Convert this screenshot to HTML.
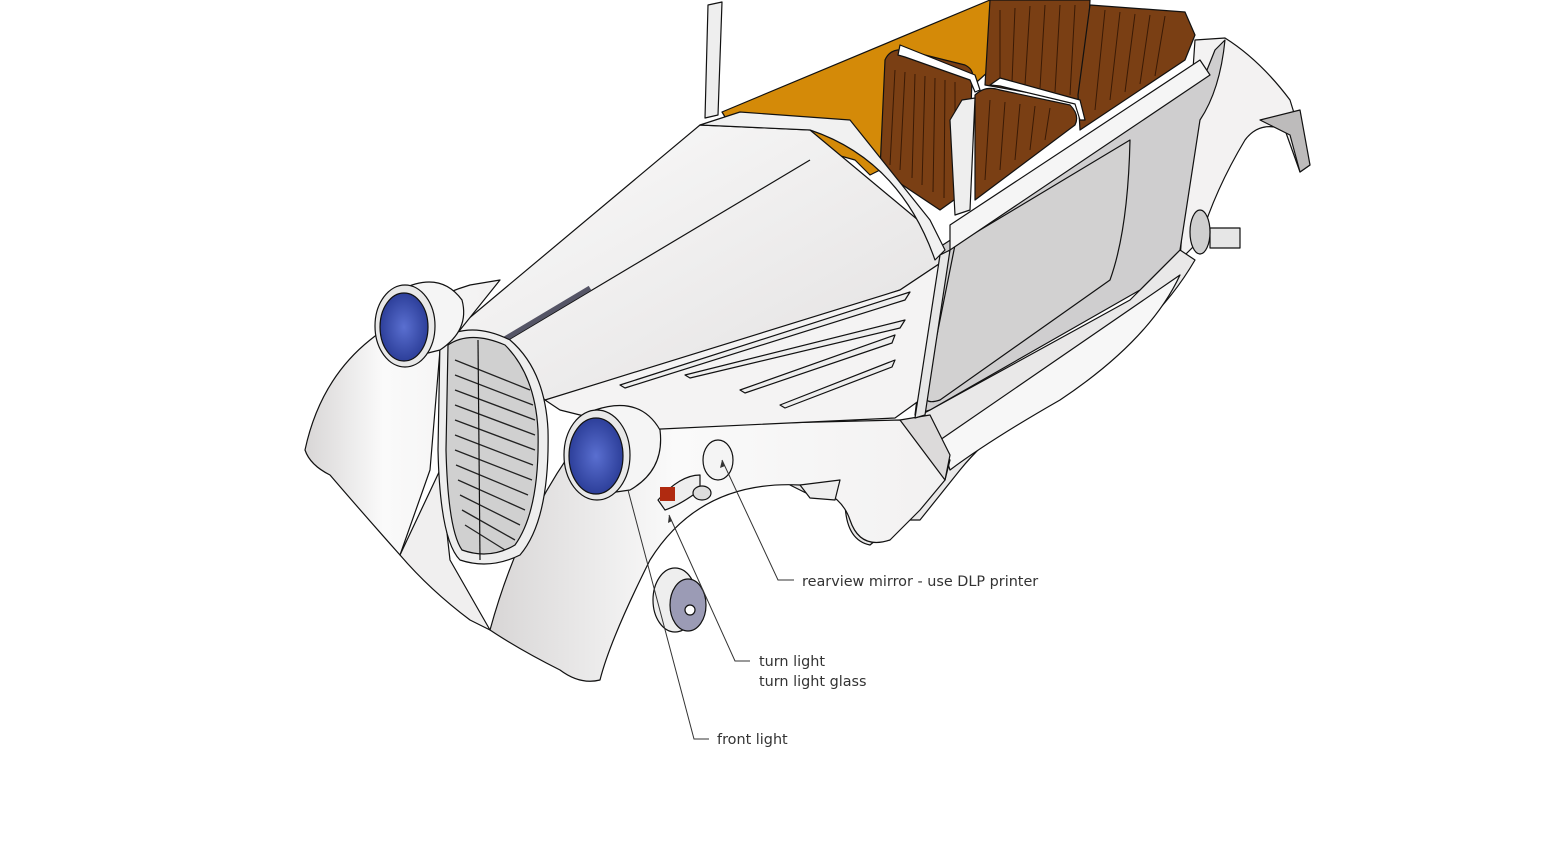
<!DOCTYPE html>
<html><head><style>
html,body{margin:0;padding:0;background:#fff;}
svg{display:block}
text{font-family:"DejaVu Sans","Liberation Sans",sans-serif;font-size:14.4px;fill:#333}
</style></head><body>
<svg width="1560" height="849" viewBox="0 0 1560 849" xmlns="http://www.w3.org/2000/svg">
<defs>
<linearGradient id="bodyg" x1="0" y1="0" x2="1" y2="1"><stop offset="0" stop-color="#fbfbfb"/><stop offset="1" stop-color="#e2e0e0"/></linearGradient>
<linearGradient id="fend" x1="0" y1="0" x2="1" y2="0"><stop offset="0" stop-color="#d8d6d6"/><stop offset="0.4" stop-color="#fafafa"/><stop offset="1" stop-color="#f2f1f1"/></linearGradient>
<radialGradient id="blue"><stop offset="0" stop-color="#5a6fd0"/><stop offset="1" stop-color="#2d3f9a"/></radialGradient>
</defs>
<g stroke="#111" stroke-width="1.2" stroke-linejoin="round">
<path d="M1195,40 L1225,38 Q1260,60 1290,100 L1310,165 L1300,172 L1285,130 Q1260,120 1245,140 Q1215,190 1200,240 L1180,260 Z" fill="#f3f2f2"/>
<path d="M1260,120 L1300,110 L1310,165 L1300,172 L1290,135 Z" fill="#bdbbbb"/>
<rect x="1210" y="228" width="30" height="20" fill="#e6e6e6"/>
<ellipse cx="1200" cy="232" rx="10" ry="22" fill="#cfcfcf"/>
<path d="M930,410 L1130,300 L1180,250 L1195,260 Q1160,320 1100,360 Q1000,420 960,470 L920,520 L900,520 L870,545 Q845,540 845,500 L810,495 L790,485 Z" fill="#e9e8e8"/>
<path d="M940,440 L1180,275 Q1150,340 1060,400 Q990,440 950,470 Z" fill="#f7f7f7"/>
<path d="M722,112 L990,0 L1000,0 L990,70 L880,170 L870,175 L855,160 L730,125 Z" fill="#d48a08"/>
<path d="M935,250 L1205,75 L1215,50 L1225,40 Q1220,90 1200,120 L1180,250 L1140,290 L930,410 L915,415 Z" fill="#cfcecf"/>
<path d="M955,245 L1130,140 Q1128,230 1110,280 L940,400 Q925,405 925,395 Z" fill="#d2d1d1"/>
<path d="M950,225 L1200,60 L1210,75 L950,250 Z" fill="#f5f5f5"/>
<path d="M990,0 L1090,0 L1085,100 L1070,100 L985,85 Z" fill="#7a3f14"/>
<path d="M1090,5 L1185,12 L1195,35 L1185,60 L1080,130 L1078,95 Z" fill="#7a3f14"/>
<path d="M885,60 Q890,48 905,50 L965,65 Q975,70 972,80 L968,190 L940,210 L880,170 Z" fill="#7a3f14"/>
<path d="M975,95 Q985,85 1000,90 L1070,105 Q1080,115 1075,125 L975,200 Z" fill="#7a3f14"/>
<g stroke="#3a1a05" stroke-width="1" fill="none">
<path d="M895,70 L890,165 M905,72 L900,170 M915,74 L912,178 M925,76 L922,185 M935,78 L933,192 M945,80 L944,198 M955,82 L955,200"/>
<path d="M1000,10 L1000,80 M1015,8 L1012,82 M1030,6 L1025,85 M1045,5 L1040,88 M1060,5 L1055,92 M1075,5 L1070,95"/>
<path d="M1105,10 L1095,110 M1120,12 L1110,100 M1135,14 L1125,92 M1150,15 L1140,84 M1165,16 L1155,76"/>
<path d="M990,100 L985,180 M1005,102 L1000,170 M1020,104 L1015,160 M1035,106 L1030,150 M1050,108 L1045,140"/>
</g>
<path d="M898,55 L900,45 L975,75 L980,90 L975,92 L970,80 L905,57 Z" fill="#fff"/>
<path d="M990,85 L1000,78 L1080,100 L1085,120 L1080,120 L1075,104 L1000,86 Z" fill="#fff"/>
<path d="M708,5 L722,2 L718,115 L705,118 Z" fill="#eee"/>
<path d="M962,100 L975,98 L970,210 L955,215 L950,120 Z" fill="#eee"/>
<path d="M490,630 Q520,520 580,440 Q620,420 700,425 L900,420 L930,445 L950,460 L945,480 L920,510 L890,540 Q860,550 850,520 Q840,490 800,485 Q700,480 650,560 Q610,640 600,680 Q580,685 560,670 Q520,650 490,630 Z" fill="url(#fend)"/>
<path d="M900,420 L930,415 L950,455 L945,480 Z" fill="#dcdada"/>
<path d="M455,330 L700,125 L810,130 L930,230 L945,260 L900,290 L620,385 L545,400 L500,350 Z" fill="url(#bodyg)"/>
<path d="M700,125 L740,112 L850,120 L930,220 L945,250 L935,260 Q900,160 810,130 Z" fill="#f1f1f1"/>
<path d="M545,400 L900,290 L945,260 L920,400 L895,418 L640,430 L600,420 L560,410 Z" fill="#f4f3f3"/>
<path d="M940,255 L950,250 L925,415 L915,418 Z" fill="#e6e6e6"/>
<path d="M500,345 L810,160" fill="none"/>
<path d="M483,352 L590,288" stroke="#556" stroke-width="5" fill="none"/>
<circle cx="485" cy="355" r="7" fill="#8a93a6"/>
<path d="M620,385 L910,292 L905,300 L625,388 Z M685,375 L905,320 L900,328 L690,378 Z M740,390 L895,335 L892,343 L745,393 Z M780,405 L895,360 L892,367 L785,408 Z" fill="#eee"/>
<path d="M305,450 Q320,380 370,340 Q420,300 470,285 L500,280 L460,330 L440,350 L430,470 L400,555 Q360,510 330,475 Q310,465 305,450 Z" fill="url(#fend)"/>
<path d="M400,555 L440,470 L450,560 L490,630 L470,620 Q430,590 400,555 Z" fill="#f0efef"/>
<path d="M440,340 Q470,320 510,340 Q545,370 548,430 Q550,520 520,555 Q490,570 460,560 Q440,540 438,450 Z" fill="#eeeeee"/>
<path d="M448,345 Q470,330 505,345 Q535,375 538,430 Q540,510 515,545 Q490,560 462,550 Q448,530 446,450 Z" fill="#d0d0d0"/>
<g stroke="#222" stroke-width="1.3">
<path d="M455,360 L530,390 M455,375 L533,405 M455,390 L535,420 M455,405 L535,435 M455,420 L535,450 M455,435 L533,465 M455,450 L532,480 M456,465 L528,495 M458,480 L525,510 M460,495 L520,525 M462,510 L515,540 M465,525 L505,550"/>
</g>
<path d="M478,340 L480,560" stroke="#111"/>
<path d="M400,290 Q440,270 462,300 Q470,330 440,350 L400,360 Z" fill="#f5f5f5"/>
<ellipse cx="405" cy="326" rx="30" ry="41" fill="#e8e8e8"/>
<ellipse cx="404" cy="327" rx="24" ry="34" fill="url(#blue)"/>
<path d="M595,410 Q640,395 660,430 Q665,470 630,490 L595,495 Z" fill="#f5f5f5"/>
<ellipse cx="597" cy="455" rx="33" ry="45" fill="#e8e8e8"/>
<ellipse cx="596" cy="456" rx="27" ry="38" fill="url(#blue)"/>
<ellipse cx="718" cy="460" rx="15" ry="20" fill="#f4f4f4"/>
<path d="M658,500 Q680,475 700,475 L700,490 Q680,505 665,510 Z" fill="#eee"/>
<rect x="660" y="487" width="15" height="14" fill="#b02a10" stroke="none"/>
<ellipse cx="702" cy="493" rx="9" ry="7" fill="#ddd"/>
<ellipse cx="675" cy="600" rx="22" ry="32" fill="#eee"/>
<ellipse cx="688" cy="605" rx="18" ry="26" fill="#9b9bb5"/>
<circle cx="690" cy="610" r="5" fill="#fff"/>
<path d="M800,485 L840,480 L835,500 L810,498 Z" fill="#eee"/>
</g>
<g stroke="#333" stroke-width="1" fill="none">
<path d="M794,580 L778,580 L722,460"/>
<path d="M750,661 L735,661 L669,515"/>
<path d="M709,739 L694,739 L628,490"/>
</g>
<g fill="#333">
<path d="M722,460 L720,468 L725,466 Z"/>
<path d="M669,515 L668,523 L672,521 Z"/>
</g>
<text x="802" y="586">rearview mirror - use DLP printer</text>
<text x="759" y="666">turn light</text>
<text x="759" y="686">turn light glass</text>
<text x="717" y="744">front light</text>
</svg>
</body></html>
